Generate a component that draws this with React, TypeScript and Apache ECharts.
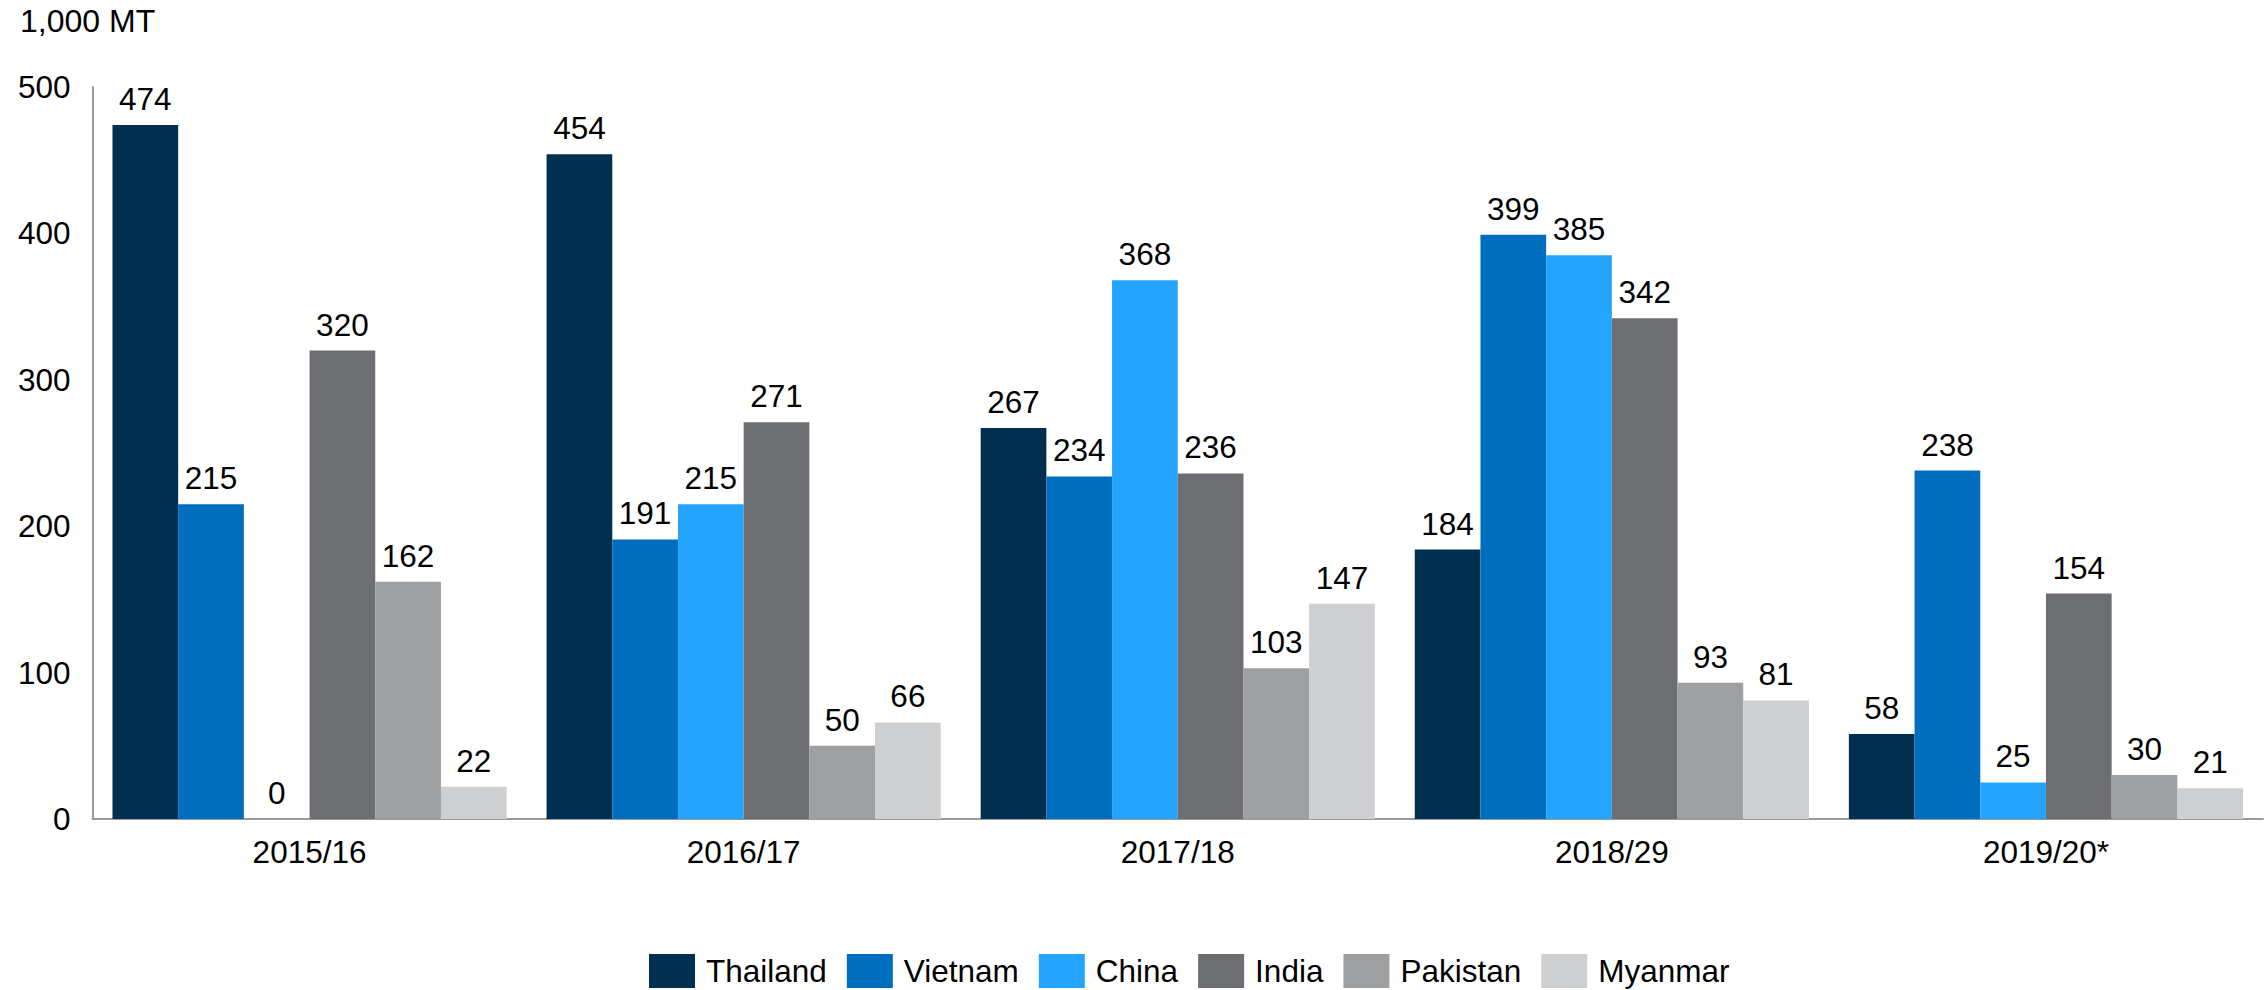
import React, { useEffect, useRef } from "react";
import * as echarts from "echarts";

const categories = ["2015/16", "2016/17", "2017/18", "2018/29", "2019/20*"];
const seriesNames = ["Thailand", "Vietnam", "China", "India", "Pakistan", "Myanmar"];
const thailand = [474, 454, 267, 184, 58];
const vietnam = [215, 191, 234, 399, 238];
const china = [0, 215, 368, 385, 25];
const india = [320, 271, 236, 342, 154];
const pakistan = [162, 50, 103, 93, 30];
const myanmar = [22, 66, 147, 81, 21];
const colors = ["#00304F", "#006EBE", "#23A5FF", "#6D6E72", "#9E9FA1", "#CECFD1"];
const unitLabel = "1,000 MT";

const FONT = "'Liberation Sans', Arial, Helvetica, sans-serif";
const FS = 31.5;

export default function App() {
  const ref = useRef<HTMLDivElement>(null);
  useEffect(() => {
    if (!ref.current) return;
    const chart = echarts.init(ref.current, undefined, { renderer: "svg" });
    const values = [thailand, vietnam, china, india, pakistan, myanmar];
    chart.setOption({
      animation: false,
      backgroundColor: "#ffffff",
      textStyle: { fontFamily: FONT },
      grid: { left: 92.5, right: 4, top: 87, bottom: 171, containLabel: false },
      legend: {
        left: 644,
        top: 949,
        itemWidth: 46,
        itemHeight: 34,
        itemGap: 20,
        icon: "rect",
        textStyle: { fontFamily: FONT, fontSize: 31.5, color: "#000", padding: [0, 0, 0, 6] },
        data: seriesNames,
      },
      graphic: [
        {
          type: "text",
          left: 20,
          top: 5,
          style: { text: unitLabel, fontFamily: FONT, fontSize: 32, fill: "#000" },
        },
      ],
      xAxis: {
        type: "category",
        data: categories,
        axisLine: { lineStyle: { color: "#9a9a9a", width: 2 } },
        axisTick: { show: false },
        axisLabel: { fontFamily: FONT, fontSize: FS, color: "#000", margin: 17 },
      },
      yAxis: {
        type: "value",
        min: 0,
        max: 500,
        interval: 100,
        axisLine: { show: true, lineStyle: { color: "#9a9a9a", width: 2 } },
        axisTick: { show: false },
        splitLine: { show: false },
        axisLabel: { fontFamily: FONT, fontSize: FS, color: "#000", margin: 22 },
      },
      series: seriesNames.map((name, i) => ({
        name,
        type: "bar",
        data: values[i],
        barGap: "0%",
        barCategoryGap: "9.2%",
        itemStyle: { color: colors[i] },
        label: {
          show: true,
          position: "top",
          distance: 10,
          fontFamily: FONT,
          fontSize: FS,
          color: "#000",
        },
      })),
    });
    return () => chart.dispose();
  }, []);
  return (
    <div
      ref={ref}
      style={{ position: "fixed", left: 0, top: 0, width: 2267, height: 990, background: "#fff" }}
    />
  );
}
